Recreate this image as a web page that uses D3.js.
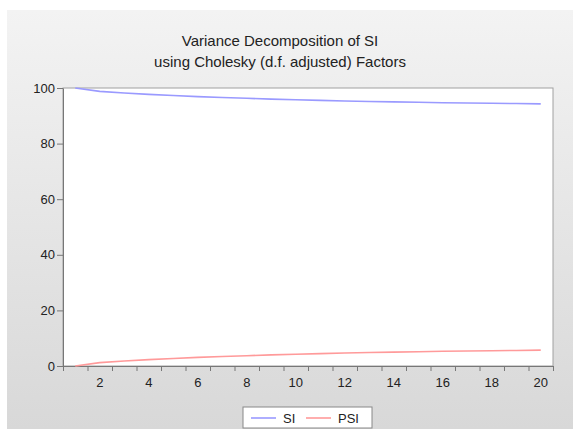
<!DOCTYPE html>
<html>
<head>
<meta charset="utf-8">
<script src="https://cdn.jsdelivr.net/npm/d3@7"></script>
<style>
  body { margin: 0; background: #fff; }
  svg { display: block; font-family: "Liberation Sans", Arial, sans-serif; }
</style>
</head>
<body>
<div id="chart"></div>
<script>
// periods 1..20
const periods = d3.range(1, 21);
// PSI share, SI is the rest
const psiValues = [0, 1.2, 1.8, 2.3, 2.7, 3.1, 3.4, 3.7, 4.0, 4.2,
                   4.45, 4.7, 4.85, 5.0, 5.15, 5.3, 5.4, 5.5, 5.6, 5.7];
const siValues = [100, 98.8, 98.2, 97.7, 97.3, 96.9, 96.6, 96.3, 96.0, 95.8,
                  95.55, 95.3, 95.15, 95.0, 94.85, 94.7, 94.6, 94.5, 94.4, 94.3];
const yTicks = [0, 20, 40, 60, 80, 100];
const xLabels = [2, 4, 6, 8, 10, 12, 14, 16, 18, 20];
const seriesNames = ["SI", "PSI"];
const seriesColors = ["#9a9aff", "#ff9a9a"];

const W = 573, H = 429;
const plot = { left: 63, right: 553, top: 88, bottom: 366 };

const svg = d3.select("#chart").append("svg")
    .attr("width", W)
    .attr("height", H);

// background gradient panel
const defs = svg.append("defs");
const grad = defs.append("linearGradient")
    .attr("id", "bg")
    .attr("x1", 0).attr("y1", 0).attr("x2", 0).attr("y2", 1);
grad.append("stop").attr("offset", "0%").attr("stop-color", "#f3f3f3");
grad.append("stop").attr("offset", "100%").attr("stop-color", "#d8d8d8");

svg.append("rect")
    .attr("x", 7).attr("y", 10)
    .attr("width", W - 7).attr("height", H - 10)
    .attr("fill", "url(#bg)");

// title
const title = svg.append("text")
    .attr("text-anchor", "middle")
    .attr("font-size", "15px")
    .attr("fill", "#222");
title.append("tspan").attr("x", 280).attr("y", 46).text("Variance Decomposition of SI");
title.append("tspan").attr("x", 280).attr("y", 67).text("using Cholesky (d.f. adjusted) Factors");

const xScale = d3.scaleLinear()
    .domain([0.5, 20.5])
    .range([plot.left, plot.right]);

const yScale = d3.scaleLinear()
    .domain([0, 100])
    .range([plot.bottom, plot.top]);

// plot area
svg.append("rect")
    .attr("x", plot.left).attr("y", plot.top)
    .attr("width", plot.right - plot.left)
    .attr("height", plot.bottom - plot.top)
    .attr("fill", "#fff")
    .attr("stroke", "#a0a0a0")
    .attr("stroke-width", 1);

// y axis
const yAxis = svg.append("g")
    .attr("transform", `translate(${plot.left},0)`)
    .call(d3.axisLeft(yScale).tickValues(yTicks).tickSize(6).tickPadding(2).tickSizeOuter(0));

// x axis: ticks at period boundaries, labels at even periods
const xAxis = svg.append("g")
    .attr("transform", `translate(0,${plot.bottom})`)
    .call(d3.axisBottom(xScale)
        .tickValues(d3.range(0.5, 21, 1))
        .tickFormat("")
        .tickSize(5)
        .tickSizeOuter(0));

svg.append("g")
    .selectAll("text")
    .data(xLabels)
    .enter()
    .append("text")
    .attr("x", d => xScale(d))
    .attr("y", plot.bottom + 21)
    .attr("text-anchor", "middle")
    .attr("font-size", "13px")
    .attr("fill", "#222")
    .text(d => d);

[yAxis, xAxis].forEach(a => {
    a.select(".domain").attr("stroke", "#777");
    a.selectAll(".tick line").attr("stroke", "#777");
    a.selectAll(".tick text").attr("font-size", "13px").attr("fill", "#222")
        .attr("font-family", "Liberation Sans, Arial, sans-serif");
});

// lines
const line = d3.line()
    .x((d, i) => xScale(periods[i]))
    .y(d => yScale(d));

[siValues, psiValues].forEach((vals, k) => {
    svg.append("path")
        .datum(vals)
        .attr("fill", "none")
        .attr("stroke", seriesColors[k])
        .attr("stroke-width", 1.6)
        .attr("d", line);
});

// legend
const legend = svg.append("g").attr("transform", "translate(243,407)");
legend.append("rect")
    .attr("width", 129).attr("height", 21)
    .attr("fill", "#fff")
    .attr("stroke", "#888");

const legendX = [8, 63];
seriesNames.forEach((name, k) => {
    legend.append("line")
        .attr("x1", legendX[k]).attr("x2", legendX[k] + 25)
        .attr("y1", 11).attr("y2", 11)
        .attr("stroke", seriesColors[k])
        .attr("stroke-width", 1.6);
    legend.append("text")
        .attr("x", legendX[k] + 32)
        .attr("y", 15.5)
        .attr("font-size", "13px")
        .attr("fill", "#222")
        .text(name);
});
</script>
</body>
</html>
